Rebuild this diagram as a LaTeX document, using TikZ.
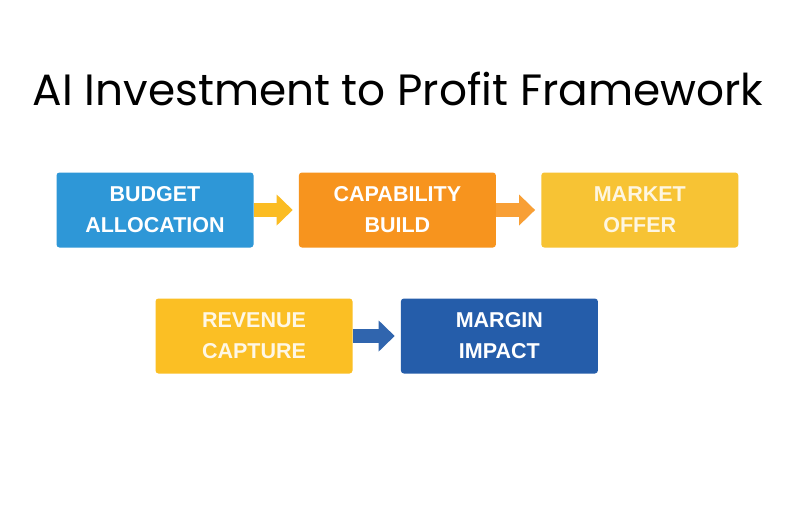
\documentclass[tikz,border=0pt]{standalone}
\usepackage{fontspec}
\setmainfont{Poppins}
\newfontfamily\stagefont{Liberation Sans}
\usetikzlibrary{positioning,arrows.meta}
\definecolor{budgetblue}{RGB}{46,151,215}
\definecolor{buildorange}{RGB}{247,148,30}
\definecolor{offeryellow}{RGB}{247,195,52}
\definecolor{captureamber}{RGB}{251,191,36}
\definecolor{marginblue}{RGB}{37,93,170}
\def\stagesep{45pt}

\begin{document}
\begin{tikzpicture}[x=1pt,y=1pt,node distance=\stagesep]
    \tikzstyle{stage}=[rectangle,rounded corners=3pt,minimum width=197pt,minimum height=75pt,
        align=center,text=white,font=\stagefont\fontsize{21.5}{31}\selectfont\bfseries]
    \tikzstyle{flow}=[line width=14pt,shorten >=6pt,-{Triangle[length=16pt,width=30pt]}]
    \tikzstyle{heading}=[font=\fontsize{43.8}{50}\selectfont,anchor=base]

    % Fix the page size
    \useasboundingbox[fill=white] (0,0) rectangle (800,-504);

    % Title
    \node[heading] (title) at (398,-105) {AI Investment to Profit Framework};

    % First row of stages
    \node[stage, fill=budgetblue] (budget) at (155,-210) {BUDGET\\ALLOCATION};
    \node[stage, fill=buildorange, right=of budget] (build) {CAPABILITY\\BUILD};
    \node[stage, fill=offeryellow, text=white!85!offeryellow, right=of build] (offer) {MARKET\\OFFER};

    % Second row of stages
    \node[stage, fill=captureamber, text=white!88!captureamber] (capture) at (254,-336) {REVENUE\\CAPTURE};
    \node[stage, fill=marginblue, right=48pt of capture] (margin) {MARGIN\\IMPACT};

    % Connect the stages
    \draw[flow, draw=captureamber!95!orange] (budget) -- (build);
    \draw[flow, draw=buildorange!90!white] (build) -- (offer);
    \draw[flow, draw=marginblue!95!white] (capture) -- (margin);
\end{tikzpicture}
\end{document}
